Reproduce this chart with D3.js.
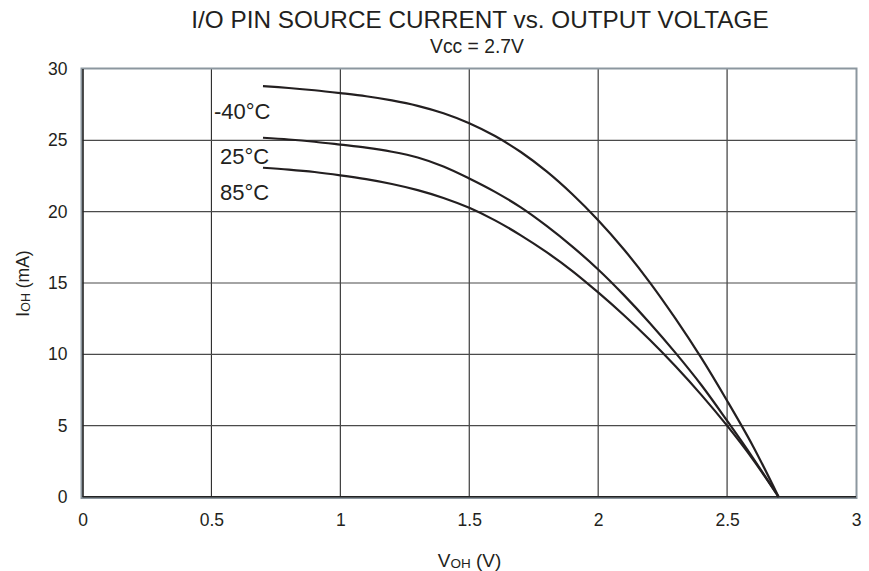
<!DOCTYPE html>
<html>
<head>
<meta charset="utf-8">
<script src="https://cdn.jsdelivr.net/npm/d3@7"></script>
<style>
  html, body { margin: 0; padding: 0; background: #fff; }
  svg { display: block; font-family: "Liberation Sans", Arial, sans-serif; }
</style>
</head>
<body>
<svg id="chart" width="869" height="571"></svg>
<script>
// ---- data ----
const title = "I/O PIN SOURCE CURRENT vs. OUTPUT VOLTAGE";
const subtitle = "Vcc = 2.7V";
const xTicks = [0, 0.5, 1, 1.5, 2, 2.5, 3];
const yTicks = [0, 5, 10, 15, 20, 25, 30];
const seriesNames = ["-40°C", "25°C", "85°C"];
const voltage = [0.7, 0.8, 0.9, 1.0, 1.1, 1.2, 1.3, 1.4, 1.5, 1.6, 1.7, 1.8, 1.9, 2.0, 2.1, 2.2, 2.3, 2.4, 2.5, 2.6, 2.7];
const currentM40 = [28.8, 28.67, 28.51, 28.31, 28.09, 27.8, 27.42, 26.9, 26.2, 25.3, 24.18, 22.82, 21.22, 19.4, 17.35, 15.05, 12.5, 9.75, 6.75, 3.58, 0];
const current25  = [25.18, 25.06, 24.9, 24.7, 24.49, 24.2, 23.8, 23.17, 22.33, 21.39, 20.3, 19.0, 17.55, 15.95, 14.15, 12.2, 10.1, 7.85, 5.35, 2.75, 0];
const current85  = [23.08, 22.95, 22.78, 22.55, 22.28, 21.94, 21.51, 20.96, 20.27, 19.39, 18.34, 17.16, 15.84, 14.34, 12.74, 11.02, 9.16, 7.16, 5.0, 2.64, 0];

// ---- layout ----
const svg = d3.select("#chart");
const L = 82.5, R = 856, T = 69, B = 497;
const x = d3.scaleLinear().domain([0, 3]).range([L, R]);
const y = d3.scaleLinear().domain([0, 30]).range([B, T]);
const ink = "#231f20";

// grid
svg.append("g").selectAll("line.v").data(xTicks.slice(1, -1)).join("line")
  .attr("x1", d => x(d)).attr("x2", d => x(d)).attr("y1", T).attr("y2", B)
  .attr("stroke", "#2a2a2a").attr("stroke-width", 1.1);
svg.append("g").selectAll("line.h").data(yTicks.slice(1, -1)).join("line")
  .attr("x1", L).attr("x2", R).attr("y1", d => y(d)).attr("y2", d => y(d))
  .attr("stroke", "#4a4a4a").attr("stroke-width", 1.1);

// frame
svg.append("rect").attr("x", L - 1).attr("y", T - 0.5).attr("width", R - L + 1.5).attr("height", B - T + 1.5)
  .attr("fill", "none").attr("stroke", "#8c979f").attr("stroke-width", 2);
svg.append("line").attr("x1", L + 0.5).attr("x2", L + 0.5).attr("y1", T).attr("y2", B)
  .attr("stroke", "#222").attr("stroke-width", 1.6);
svg.append("line").attr("x1", L).attr("x2", R).attr("y1", B - 0.3).attr("y2", B - 0.3)
  .attr("stroke", "#222").attr("stroke-width", 1.6);

// axes tick labels
const yAxis = d3.axisLeft(y).tickValues(yTicks).tickSize(0).tickPadding(15).tickFormat(d3.format("d"));
const gy = svg.append("g").attr("transform", `translate(${L},0)`).call(yAxis);
gy.select(".domain").remove();
gy.selectAll("text").attr("font-size", 17.5).attr("fill", ink).attr("font-family", "Liberation Sans, Arial, sans-serif");

const xAxis = d3.axisBottom(x).tickValues(xTicks).tickSize(0).tickPadding(17).tickFormat(d => String(d));
const gx = svg.append("g").attr("transform", `translate(0,${B})`).call(xAxis);
gx.select(".domain").remove();
gx.selectAll("text").attr("font-size", 17.5).attr("fill", ink).attr("font-family", "Liberation Sans, Arial, sans-serif");

// curves
const series = [currentM40, current25, current85];
const line = d3.line().x(d => x(d[0])).y(d => y(d[1])).curve(d3.curveCatmullRom.alpha(0.5));
svg.append("g").selectAll("path").data(series).join("path")
  .attr("d", s => line(voltage.map((v, i) => [v, s[i]])))
  .attr("fill", "none").attr("stroke", ink).attr("stroke-width", 2.2);

// curve labels
const labelPos = [[214, 118.5], [220, 163.5], [220, 199.5]];
svg.append("g").selectAll("text").data(seriesNames).join("text")
  .attr("x", (d, i) => labelPos[i][0]).attr("y", (d, i) => labelPos[i][1])
  .attr("font-size", 22).attr("fill", ink).text(d => d);

// titles
svg.append("text").attr("x", 480).attr("y", 27.5).attr("text-anchor", "middle")
  .attr("font-size", 24.3).attr("fill", ink).text(title);
svg.append("text").attr("x", 477).attr("y", 53).attr("text-anchor", "middle")
  .attr("font-size", 19.3).attr("fill", ink).text(subtitle);

// axis titles
const xt = svg.append("text").attr("x", 469.5).attr("y", 566.5).attr("text-anchor", "middle")
  .attr("font-size", 19).attr("fill", ink);
xt.append("tspan").text("V");
xt.append("tspan").attr("font-size", 13.5).attr("dy", 1).text("OH");
xt.append("tspan").attr("dy", -1).text(" (V)");

const yt = svg.append("text").attr("transform", "translate(29,283.5) rotate(-90)").attr("text-anchor", "middle")
  .attr("font-size", 17.5).attr("fill", ink);
yt.append("tspan").text("I");
yt.append("tspan").attr("font-size", 12.5).attr("dy", 1).text("OH");
yt.append("tspan").attr("dy", -1).text(" (mA)");
</script>
</body>
</html>
